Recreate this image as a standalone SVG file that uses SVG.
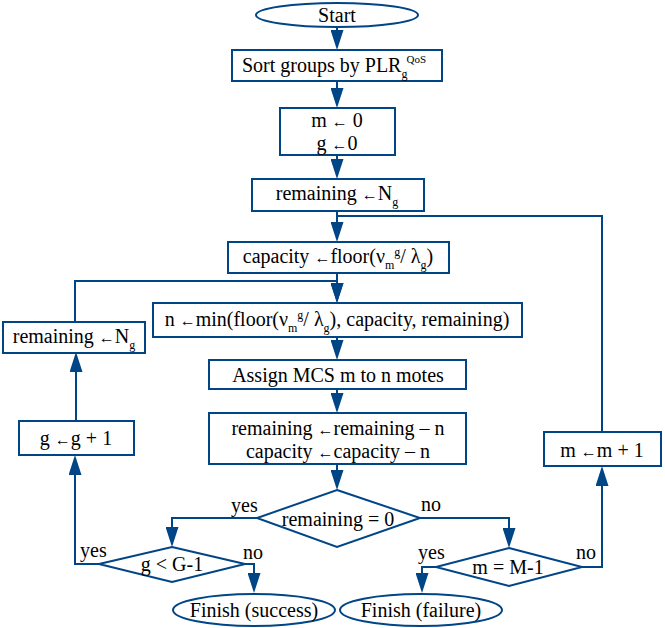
<svg xmlns="http://www.w3.org/2000/svg" width="665" height="628" viewBox="0 0 665 628">
<style>
.s{fill:#fff;stroke:#004586;stroke-width:2}
.c{fill:none;stroke:#004586;stroke-width:2}
text{font-family:"Liberation Serif","Times New Roman",serif;font-size:20px;fill:#000}
.m{text-anchor:middle}
.a{font-size:16px}
.sb{font-size:12px}
.sp{font-size:11px}
</style>
<defs>
<marker id="ar" viewBox="0 0 20 13" refX="16" refY="6.5" markerWidth="20" markerHeight="13" markerUnits="userSpaceOnUse" orient="auto">
<path d="M0,0 L20,6.5 L0,13 z" fill="#004586"/>
</marker>
</defs>
<rect width="665" height="628" fill="#fff"/>
<g id="connectors" class="c" marker-end="url(#ar)">
<path d="M337,27 V46"/>
<path d="M337,81 V104"/>
<path d="M337,155 V175"/>
<path d="M337,211 V238"/>
<path d="M337,273 V299"/>
<path d="M337,337 V356"/>
<path d="M337,389 V409"/>
<path d="M337,464 V486"/>
<path d="M257,518 H172 V543"/>
<path d="M420,518 H509 V544"/>
<path d="M99,564 H75 V459"/>
<path d="M76,421 V356"/>
<path d="M75,322 V281 H337 V299"/>
<path d="M245,564 H254 V589"/>
<path d="M436,567 H422 V589"/>
<path d="M582,567 H602 V470"/>
<path d="M337,216 H602 V432" marker-end="none"/>
</g>
<g font-family="Liberation Serif, Times New Roman, serif">
<g id="start"><ellipse class="s" cx="337" cy="15" rx="81" ry="12"/><text class="m" x="337" y="22">Start</text></g>
<g id="sort"><rect class="s" x="232" y="50" width="210" height="31"/><text x="242" y="72">Sort groups by PLR<tspan class="sb" dy="6">g</tspan><tspan class="sp" dx="-1" dy="-15">QoS</tspan></text></g>
<g id="init"><rect class="s" x="280" y="108" width="115" height="47"/>
<text class="m" x="337" y="127">m <tspan class="a">←</tspan>  0</text>
<text class="m" x="337" y="150">g <tspan class="a">←</tspan>0</text></g>
<g id="rem1"><rect class="s" x="252" y="179" width="172" height="32"/><text class="m" x="337" y="200">remaining <tspan class="a">←</tspan>N<tspan class="sb" dy="6">g</tspan></text></g>
<g id="cap"><rect class="s" x="228" y="242" width="221" height="31"/><text class="m" x="338" y="263">capacity <tspan class="a">←</tspan>floor(ν<tspan class="sb" dy="6">m</tspan><tspan class="sb" dy="-13">g</tspan><tspan dy="7">/ λ</tspan><tspan class="sb" dy="6">g</tspan><tspan dy="-6">)</tspan></text></g>
<g id="nmin"><rect class="s" x="153" y="303" width="369" height="34"/><text class="m" x="337" y="326">n <tspan class="a">←</tspan>min(floor(ν<tspan class="sb" dy="6">m</tspan><tspan class="sb" dy="-13">g</tspan><tspan dy="7">/ λ</tspan><tspan class="sb" dy="6">g</tspan><tspan dy="-6">), capacity, remaining)</tspan></text></g>
<g id="assign"><rect class="s" x="209" y="360" width="257" height="29"/><text class="m" x="338" y="382">Assign MCS m to n motes</text></g>
<g id="update"><rect class="s" x="209" y="413" width="257" height="51"/>
<text class="m" x="338" y="435">remaining <tspan class="a">←</tspan>remaining – n</text>
<text class="m" x="338" y="458">capacity <tspan class="a">←</tspan>capacity – n</text></g>
<g id="d_rem"><path class="s" d="M337,490 L420,518 L337,547 L257,518 Z"/><text class="m" x="338" y="526">remaining = 0</text></g>
<g id="d_g"><path class="s" d="M172,547 L245,564 L172,582 L99,564 Z"/><text class="m" x="172" y="571">g &lt; G-1</text></g>
<g id="d_m"><path class="s" d="M509,548 L582,567 L509,586 L436,567 Z"/><text class="m" x="508" y="574">m = M-1</text></g>
<g id="ginc"><rect class="s" x="19" y="421" width="115" height="34"/><text class="m" x="76" y="445">g <tspan class="a">←</tspan>g + 1</text></g>
<g id="rem2"><rect class="s" x="3" y="322" width="142" height="31"/><text class="m" x="74" y="343">remaining <tspan class="a">←</tspan>N<tspan class="sb" dy="6">g</tspan></text></g>
<g id="minc"><rect class="s" x="544" y="432" width="117" height="34"/><text class="m" x="602" y="457">m <tspan class="a">←</tspan>m + 1</text></g>
<g id="success"><ellipse class="s" cx="254" cy="610" rx="81" ry="16"/><text class="m" x="254" y="617">Finish (success)</text></g>
<g id="failure"><ellipse class="s" cx="421" cy="610" rx="81" ry="16"/><text class="m" x="421" y="617">Finish (failure)</text></g>
<g id="labels">
<text x="231" y="512">yes</text>
<text x="421" y="511">no</text>
<text x="80" y="557">yes</text>
<text x="243" y="559">no</text>
<text x="418" y="559">yes</text>
<text x="576" y="559">no</text>
</g>
</g>
</svg>
